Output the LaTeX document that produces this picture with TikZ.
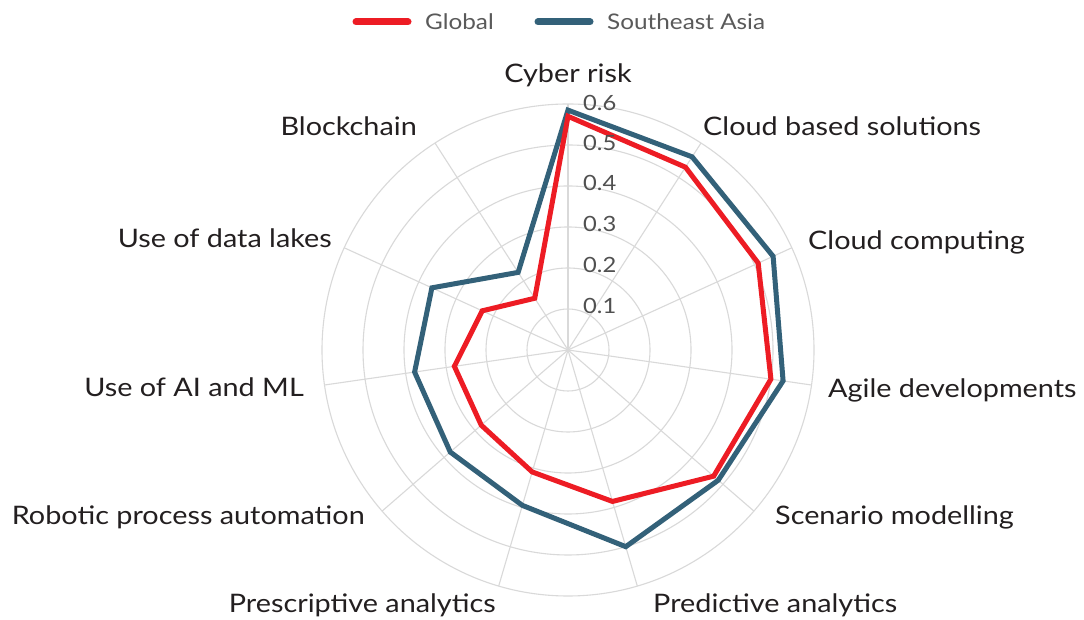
\documentclass[tikz,border=0pt]{standalone}
\usepackage{fontspec}
\setmainfont{Lato}[FakeStretch=1.13]
\definecolor{gred}{HTML}{ED1C24}
\definecolor{sblue}{HTML}{336179}
\definecolor{gridc}{HTML}{D9D9D9}
\definecolor{labc}{HTML}{231F20}
\definecolor{tickc}{HTML}{505050}
\definecolor{legc}{HTML}{5A5A5A}
\begin{document}
\begin{tikzpicture}[x=1pt,y=1pt,
  gridline/.style={draw=gridc,line width=1.1pt},
  series/.style={line width=5pt,line join=miter},
  axlabel/.style={font=\fontsize{25.5}{30}\selectfont,text=labc,inner sep=0pt},
  ticklabel/.style={font=\fontsize{21}{25}\selectfont,text=tickc,inner sep=0pt,anchor=west},
  legtext/.style={font=\fontsize{21.5}{25}\selectfont,text=legc,inner sep=0pt,anchor=west},
  legline/.style={line width=7pt,line cap=round}]
\useasboundingbox (0,0) rectangle (1084,620);
\fill[white] (0,0) rectangle (1084,620);
% legend
\coordinate (lr1) at (356,598); \coordinate (lr2) at (408,598);
\draw[legline,gred] (lr1) -- (lr2);
\node[legtext] (lg1) at (425,598) {Global};
\coordinate (lb1) at (538,598); \coordinate (lb2) at (590,598);
\draw[legline,sblue] (lb1) -- (lb2);
\node[legtext] (lg2) at (607,598) {Southeast Asia};
\begin{scope}[shift={(568,270)}]
  \coordinate (c) at (0,0);
  \foreach \r in {41,82,123,164,205,246} \draw[gridline] (c) circle (\r);
  \foreach \i in {0,...,10} \draw[gridline] (c) -- ({90-\i*360/11}:246);
  % Southeast Asia
  \draw[series,sblue] (90:0.585*410)
    -- ({90-1*360/11}:0.56*410) -- ({90-2*360/11}:0.55*410)
    -- ({90-3*360/11}:0.53*410) -- ({90-4*360/11}:0.485*410)
    -- ({90-5*360/11}:0.50*410) -- ({90-6*360/11}:0.395*410)
    -- ({90-7*360/11}:0.38*410) -- ({90-8*360/11}:0.378*410)
    -- ({90-9*360/11}:0.365*410) -- ({90-10*360/11}:0.225*410) -- cycle;
  % Global
  \draw[series,gred] (90:0.57*410)
    -- ({90-1*360/11}:0.53*410) -- ({90-2*360/11}:0.51*410)
    -- ({90-3*360/11}:0.50*410) -- ({90-4*360/11}:0.47*410)
    -- ({90-5*360/11}:0.385*410) -- ({90-6*360/11}:0.31*410)
    -- ({90-7*360/11}:0.28*410) -- ({90-8*360/11}:0.28*410)
    -- ({90-9*360/11}:0.23*410) -- ({90-10*360/11}:0.15*410) -- cycle;
  % tick labels
  \node[ticklabel] (t1) at (15,44) {0.1};
  \node[ticklabel] (t2) at (15,85) {0.2};
  \node[ticklabel] (t3) at (15,126) {0.3};
  \node[ticklabel] (t4) at (15,167) {0.4};
  \node[ticklabel] (t5) at (15,207) {0.5};
  \node[ticklabel] (t6) at (15,247) {0.6};
\end{scope}
% axis labels
\node[axlabel,anchor=base] (l0) at (568,537) {Cyber risk};
\node[axlabel,anchor=base west] (l1) at (703,484) {Cloud based solutions};
\node[axlabel,anchor=base west] (l2) at (808,370) {Cloud computing};
\node[axlabel,anchor=base west] (l3) at (828,222) {Agile developments};
\node[axlabel,anchor=base west] (l4) at (775,95) {Scenario modelling};
\node[axlabel,anchor=base west] (l5) at (653,7) {Predictive analytics};
\node[axlabel,anchor=base east] (l6) at (496,7) {Prescriptive analytics};
\node[axlabel,anchor=base east] (l7) at (365,95) {Robotic process automation};
\node[axlabel,anchor=base east] (l8) at (304,223) {Use of AI and ML};
\node[axlabel,anchor=base east] (l9) at (332,372) {Use of data lakes};
\node[axlabel,anchor=base east] (l10) at (417,484) {Blockchain};
\end{tikzpicture}
\end{document}
